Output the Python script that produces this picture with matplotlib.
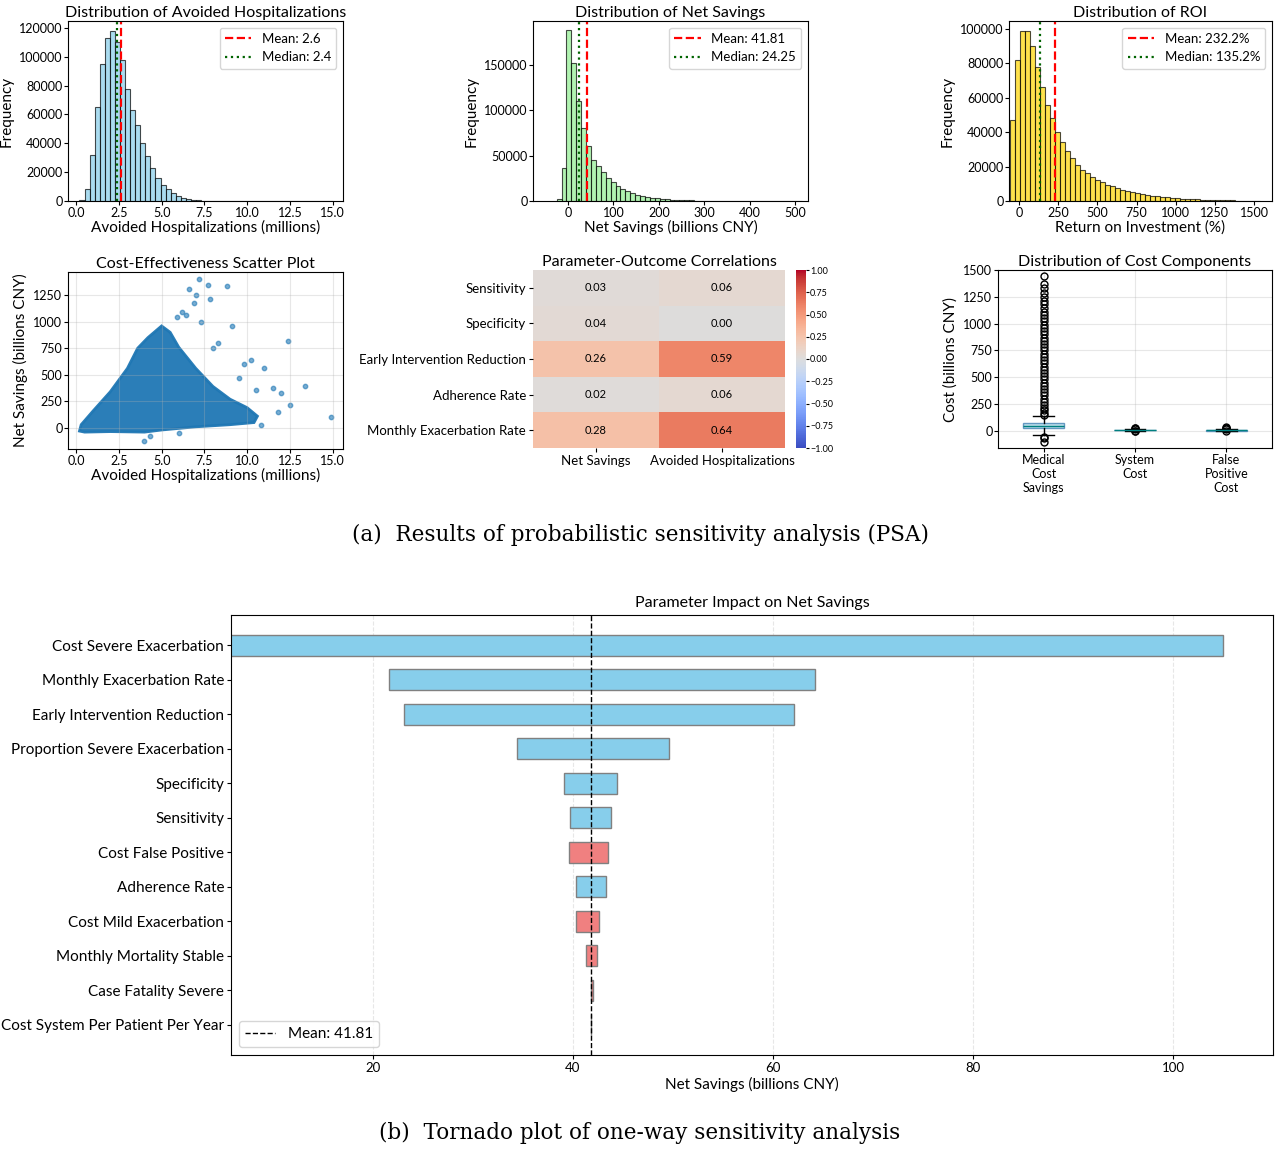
import numpy as np
import matplotlib
matplotlib.use("Agg")
import matplotlib.pyplot as plt

plt.rcParams['font.family'] = ['Lato', 'DejaVu Sans']

# ---------------- data ----------------
hosp_counts = [500, 8000, 32000, 65000, 95000, 113000, 118000, 110000, 98000, 78000,
               63000, 53000, 40000, 31000, 23000, 16000, 11000, 8000, 5500, 3500,
               2200, 1400, 800, 500, 300, 200, 100, 60, 40, 30,
               20, 15, 10, 8, 6, 5, 4, 3, 2, 2, 1, 1, 1, 1, 1, 1, 1, 1, 1, 1]
hosp_range = (0.2, 15.0)
hosp_mean, hosp_median = 2.6, 2.4

sav_counts = [2000, 36000, 188000, 152000, 110000, 80000, 60000, 45000, 38000, 32000,
              25000, 21000, 17000, 13000, 11000, 9000, 7000, 5500, 4500, 3500,
              3000, 2500, 2000, 1600, 1300, 1000, 800, 600, 500, 400,
              300, 250, 200, 150, 100, 80, 60, 50, 40, 30, 20, 15, 10, 8, 6, 5, 4, 3, 2, 1]
sav_range = (-25, 515)
sav_mean, sav_median = 41.81, 24.25

roi_counts = [47000, 82000, 99000, 99000, 90000, 78000, 66000, 56000, 48000, 40000,
              34000, 29000, 25000, 21000, 18000, 16000, 14000, 12000, 11000, 9500,
              8500, 7500, 6500, 5800, 5000, 4500, 4000, 3500, 3000, 2700,
              2400, 2100, 1800, 1600, 1400, 1200, 1000, 900, 800, 700,
              600, 500, 400, 350, 300, 250, 200, 150, 100, 80]
roi_range = (-60, 1540)
roi_mean, roi_median = 232.2, 135.2

# scatter: dense cloud envelope (x millions, y billions) + sparse outlying points
cloud_x = [0.2, 0.3, 1.0, 2.0, 3.0, 3.6, 4.2, 5.0, 5.5, 6.0, 7.0, 8.0, 9.0, 10.0, 10.6, 10.4, 9.0, 7.0, 5.0, 4.0, 2.0, 0.5]
cloud_y = [-30, 30, 160, 340, 560, 750, 850, 960, 900, 760, 560, 390, 270, 190, 110, 50, 30, 10, -20, -40, -35, -40]
out_x = [7.2, 7.7, 6.6, 8.8, 7.0, 7.8, 6.9, 6.2, 5.9, 7.3, 9.1, 12.4, 13.4, 14.9, 10.2, 9.8, 11.0, 12.0, 11.5, 12.5,
         8.3, 8.0, 9.5, 10.5, 6.4, 11.8, 4.0, 6.0, 4.3, 10.8]
out_y = [1400, 1350, 1310, 1340, 1250, 1210, 1180, 1090, 1040, 1000, 960, 820, 390, 100, 640, 600, 560, 330, 380, 220,
         800, 750, 470, 360, 1060, 150, -120, -50, -80, 30]

corr_rows = ["Sensitivity", "Specificity", "Early Intervention Reduction", "Adherence Rate", "Monthly Exacerbation Rate"]
corr_cols = ["Net Savings", "Avoided Hospitalizations"]
corr_net = [0.03, 0.04, 0.26, 0.02, 0.28]
corr_hosp = [0.06, 0.00, 0.59, 0.06, 0.64]

box_labels = ["Medical\nCost\nSavings", "System\nCost", "False\nPositive\nCost"]
box_q1 = [25, 8, 3]
box_med = [45, 10, 5]
box_q3 = [70, 12, 7]
box_lo = [-40, 2, -1]
box_hi = [140, 18, 13]
med_fliers = [-55, -70, -100, 150, 170, 190, 210, 240, 270, 300, 330, 360, 390, 420, 450, 480, 510, 540,
              570, 600, 630, 660, 690, 720, 750, 780, 810, 840, 870, 900, 930, 960, 990, 1020, 1050, 1080,
              1110, 1150, 1180, 1210, 1250, 1290, 1330, 1370, 1440]
sys_fliers = [-5, 0, 20, 25, 28]
fp_fliers = [-2, 18, 25, 30, 38]

tor_params = ["Cost Severe Exacerbation", "Monthly Exacerbation Rate", "Early Intervention Reduction",
              "Proportion Severe Exacerbation", "Specificity", "Sensitivity", "Cost False Positive",
              "Adherence Rate", "Cost Mild Exacerbation", "Monthly Mortality Stable",
              "Case Fatality Severe", "Cost System Per Patient Per Year"]
tor_low = [5.0, 21.6, 23.1, 34.4, 39.1, 39.7, 39.6, 40.3, 40.3, 41.3, 41.8, 41.81]
tor_high = [105.0, 64.2, 62.1, 49.6, 44.4, 43.8, 43.5, 43.3, 42.6, 42.4, 42.0, 41.81]
tor_neg = [False, False, False, False, False, False, True, False, True, True, True, False]

# ---------------- figure ----------------
W, H = 1280, 1149
fig = plt.figure(figsize=(W / 100, H / 100), dpi=100)

def ax_px(x0, y0, x1, y1):
    return fig.add_axes([x0 / W, 1 - y1 / H, (x1 - x0) / W, (y1 - y0) / H])

FS = 10.5

def hist_panel(ax, counts, rng, color, mean, median, title, xlabel, mlabel, dlabel, xlim, ylim):
    edges = np.linspace(rng[0], rng[1], len(counts) + 1)
    centers = (edges[:-1] + edges[1:]) / 2
    ax.hist(centers, bins=edges, weights=counts, color=color, edgecolor='black', alpha=0.7, linewidth=0.8)
    ax.axvline(mean, color='red', ls='--', lw=1.6, label=mlabel)
    ax.axvline(median, color='darkgreen', ls=':', lw=1.6, label=dlabel)
    ax.set_xlim(*xlim)
    ax.set_ylim(*ylim)
    ax.set_title(title, fontsize=11.5, pad=3)
    ax.set_xlabel(xlabel, fontsize=11, labelpad=1)
    ax.set_ylabel("Frequency", fontsize=11)
    ax.tick_params(labelsize=9, length=3, pad=1)
    ax.legend(fontsize=9.5, loc='upper right')

ax1 = ax_px(68, 21, 343, 201)
hist_panel(ax1, hosp_counts, hosp_range, 'skyblue', hosp_mean, hosp_median,
           "Distribution of Avoided Hospitalizations", "Avoided Hospitalizations (millions)",
           f"Mean: {hosp_mean}", f"Median: {hosp_median}", (-0.47, 15.6), (0, 124800))
ax2 = ax_px(533, 21, 808, 201)
hist_panel(ax2, sav_counts, sav_range, 'lightgreen', sav_mean, sav_median,
           "Distribution of Net Savings", "Net Savings (billions CNY)",
           f"Mean: {sav_mean}", f"Median: {sav_median}", (-77, 528), (0, 198000))
ax3 = ax_px(1009, 21, 1272, 201)
hist_panel(ax3, roi_counts, roi_range, 'gold', roi_mean, roi_median,
           "Distribution of ROI", "Return on Investment (%)",
           f"Mean: {roi_mean}%", f"Median: {roi_median}%", (-64, 1615), (0, 104600))

# scatter
ax4 = ax_px(68, 272, 343, 449)
ax4.fill(cloud_x, cloud_y, color='#1f77b4', alpha=0.95, lw=2, edgecolor='#1f77b4')
ax4.scatter(out_x, out_y, s=10, color='#1f77b4', alpha=0.6)
ax4.set_xlim(-0.47, 15.6)
ax4.set_ylim(-199, 1468)
ax4.set_yticks([0, 250, 500, 750, 1000, 1250])
ax4.grid(True, alpha=0.3)
ax4.set_title("Cost-Effectiveness Scatter Plot", fontsize=11.5, pad=3)
ax4.set_xlabel("Avoided Hospitalizations (millions)", fontsize=11, labelpad=1)
ax4.set_ylabel("Net Savings (billions CNY)", fontsize=11)
ax4.tick_params(labelsize=9, length=3, pad=1)

# heatmap
ax5 = ax_px(533, 270, 785, 448)
mat = np.array([corr_net, corr_hosp]).T
im = ax5.imshow(mat, cmap='coolwarm', vmin=-1, vmax=1, aspect='auto')
for i in range(mat.shape[0]):
    for j in range(mat.shape[1]):
        ax5.text(j, i, f"{mat[i, j]:.2f}", ha='center', va='center', fontsize=8)
ax5.set_xticks(range(len(corr_cols)))
ax5.set_xticklabels(corr_cols, fontsize=9.5)
ax5.set_yticks(range(len(corr_rows)))
ax5.set_yticklabels(corr_rows, fontsize=9.5)
ax5.set_title("Parameter-Outcome Correlations", fontsize=11.5, pad=3)
for s in ax5.spines.values():
    s.set_visible(False)
ax5.tick_params(length=3, pad=2)
cax = ax_px(796, 270, 806, 448)
cb = fig.colorbar(im, cax=cax)
cb.set_ticks([-1, -0.75, -0.5, -0.25, 0, 0.25, 0.5, 0.75, 1])
cb.ax.tick_params(labelsize=6.5, length=2, pad=1)
cb.outline.set_visible(False)

# box plot
ax6 = ax_px(998, 270, 1272, 448)
fl = [med_fliers, sys_fliers, fp_fliers]
stats = [dict(med=box_med[i], q1=box_q1[i], q3=box_q3[i], whislo=box_lo[i], whishi=box_hi[i],
              fliers=fl[i], label=box_labels[i]) for i in range(3)]
ax6.bxp(stats, patch_artist=True, widths=0.45,
        boxprops=dict(facecolor='lightblue', edgecolor='steelblue', alpha=0.8),
        medianprops=dict(color='teal'),
        flierprops=dict(marker='o', markerfacecolor='none', markeredgecolor='black', markersize=5))
ax6.set_ylim(-160, 1500)
ax6.grid(True, alpha=0.3)
ax6.set_title("Distribution of Cost Components", fontsize=11.5, pad=3)
ax6.set_ylabel("Cost (billions CNY)", fontsize=11)
ax6.tick_params(labelsize=9, length=3, pad=1)

fig.text(0.5, 1 - 535 / H, "(a)  Results of probabilistic sensitivity analysis (PSA)",
         ha='center', va='center', fontsize=15.5, family='DejaVu Serif')

# tornado
ax7 = ax_px(231, 615, 1273, 1055)
y = np.arange(len(tor_params))
for i in range(len(tor_params)):
    c = 'lightcoral' if tor_neg[i] else 'skyblue'
    lo, hi = min(tor_low[i], tor_high[i]), max(tor_low[i], tor_high[i])
    ax7.barh(y[i], hi - lo, left=lo, height=0.6, color=c, edgecolor='gray', linewidth=1)
ax7.axvline(sav_mean, color='black', ls='--', lw=1, label=f"Mean: {sav_mean}")
ax7.set_yticks(y)
ax7.set_yticklabels(tor_params, fontsize=11)
ax7.invert_yaxis()
ax7.set_xlim(5.8, 110)
ax7.set_xticks([20, 40, 60, 80, 100])
ax7.grid(True, axis='x', alpha=0.3, ls='--')
ax7.set_axisbelow(True)
ax7.set_title("Parameter Impact on Net Savings", fontsize=11.5, pad=6)
ax7.set_xlabel("Net Savings (billions CNY)", fontsize=11, labelpad=2)
ax7.tick_params(labelsize=9.5, length=3, pad=2)
ax7.tick_params(axis='y', labelsize=11)
ax7.legend(loc='lower left', fontsize=11)

fig.text(0.5, 1 - 1133 / H, "(b)  Tornado plot of one-way sensitivity analysis",
         ha='center', va='center', fontsize=15.5, family='DejaVu Serif')

fig.savefig("out.png", dpi=100)
